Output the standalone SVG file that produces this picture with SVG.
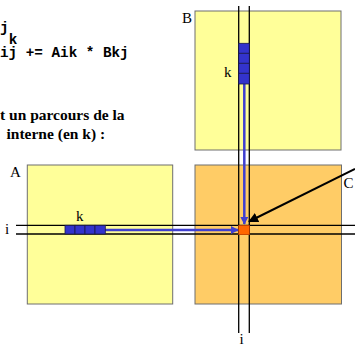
<svg xmlns="http://www.w3.org/2000/svg" width="355" height="347" viewBox="0 0 355 347">
<style>
.code{font-family:"Liberation Mono","Courier New",monospace;font-weight:bold;font-size:14.3px;fill:#000}
.title{font-family:"Liberation Serif","Times New Roman",serif;font-weight:bold;font-size:15.5px;fill:#000}
.lbl{font-family:"Liberation Serif","Times New Roman",serif;font-size:15px;fill:#000}
.mat{fill:#FFFF99;stroke:#6e6e6e;stroke-width:1}
.matc{fill:#FFCC66;stroke:#6e6e6e;stroke-width:1}
.cell{fill:#3333CC;stroke:#1a1a4a;stroke-width:0.8}
.guide{stroke:#000;stroke-width:1.3;fill:none}
.flow{stroke:#3f3fd0;stroke-width:2.5;fill:none}
</style>
<defs>
<marker id="ab" viewBox="0 0 10 10" refX="9" refY="5" markerWidth="3.2" markerHeight="3.2" orient="auto" markerUnits="strokeWidth">
<path d="M0,0 L10,5 L0,10 Z" fill="#3f3fd0"/>
</marker>
<marker id="ak" viewBox="0 0 10 10" refX="9" refY="5" markerWidth="5" markerHeight="5" orient="auto" markerUnits="strokeWidth">
<path d="M0,0 L10,5 L0,10 Z" fill="#000"/>
</marker>
</defs>
<g id="code">
<text class="code" xml:space="preserve"><tspan x="0" y="32">j</tspan><tspan x="8.7" y="44">k</tspan><tspan x="0" y="57">ij += Aik * Bkj</tspan></text>
</g>
<g id="title">
<text class="title" x="0" y="120">t un parcours de la</text>
<text class="title" x="6.5" y="138.5">interne (en k) :</text>
</g>
<g id="matB">
<rect class="mat" x="195" y="11" width="146" height="139"/>
<text class="lbl" x="182" y="23">B</text>
</g>
<g id="matA">
<rect class="mat" x="27.3" y="165" width="145.4" height="139"/>
<text class="lbl" x="10" y="177">A</text>
</g>
<g id="matC">
<rect class="matc" x="195" y="165" width="146.5" height="139"/>
<text class="lbl" x="343.5" y="188">C</text>
</g>
<g id="connectors">
<line class="guide" x1="16" y1="225.3" x2="355" y2="225.3"/>
<line class="guide" x1="16" y1="234" x2="355" y2="234"/>
<line class="guide" x1="238.7" y1="6" x2="238.7" y2="333"/>
<line class="guide" x1="249.3" y1="6" x2="249.3" y2="333"/>
<line class="flow" x1="105" y1="230" x2="238" y2="230" marker-end="url(#ab)"/>
<line class="flow" x1="244.3" y1="84" x2="244.3" y2="224" marker-end="url(#ab)"/>
<line x1="355" y1="169" x2="249" y2="221.5" stroke="#000" stroke-width="2" marker-end="url(#ak)"/>
</g>
<g id="rowA">
<rect class="cell" x="65" y="225.3" width="10" height="8.7"/>
<rect class="cell" x="75" y="225.3" width="10" height="8.7"/>
<rect class="cell" x="85" y="225.3" width="10" height="8.7"/>
<rect class="cell" x="95" y="225.3" width="10.3" height="8.7"/>
<text class="lbl" x="76" y="220.5">k</text>
<text class="lbl" x="5" y="233.5">i</text>
</g>
<g id="colB">
<rect class="cell" x="238.7" y="43.3" width="10.6" height="10"/>
<rect class="cell" x="238.7" y="53.3" width="10.6" height="10"/>
<rect class="cell" x="238.7" y="63.3" width="10.6" height="10"/>
<rect class="cell" x="238.7" y="73.3" width="10.6" height="10.7"/>
<text class="lbl" x="224" y="77">k</text>
</g>
<g id="cellC">
<rect x="238.7" y="225.3" width="10.6" height="9.4" fill="#FF6600" stroke="#cc4400" stroke-width="0.6"/>
<text class="lbl" x="239.5" y="344">i</text>
</g>
</svg>
